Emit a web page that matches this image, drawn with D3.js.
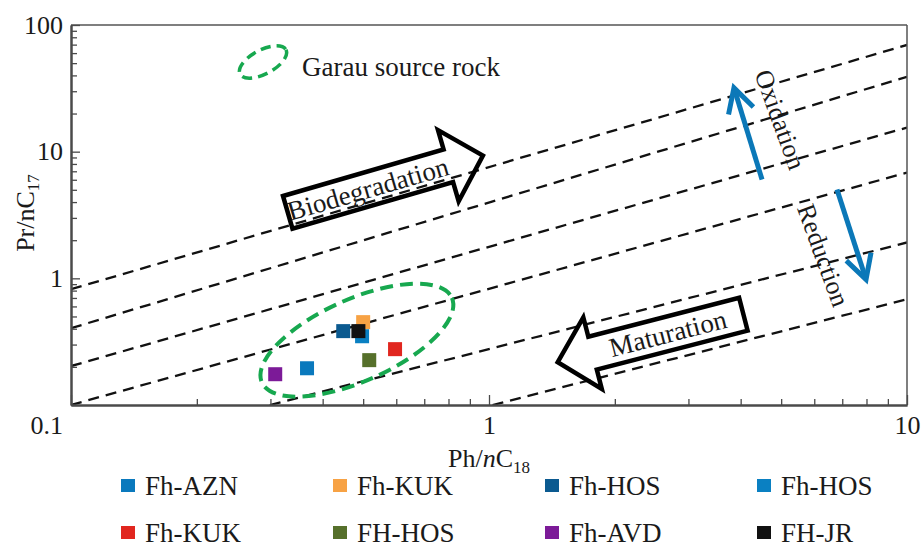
<!DOCTYPE html>
<html>
<head>
<meta charset="utf-8">
<script src="https://cdn.jsdelivr.net/npm/d3@7"></script>
<style>
  html, body { margin: 0; padding: 0; background: #fff; }
  svg text { font-family: "Liberation Serif", "Times New Roman", serif; fill: #1a1a1a; }
</style>
</head>
<body>
<svg id="chart" width="921" height="548"></svg>
<script>
// ---- Samples (Ph/nC18 vs Pr/nC17) ----
const sampleNames  = ["Fh-AZN", "Fh-KUK", "Fh-HOS", "Fh-HOS", "Fh-KUK", "FH-HOS", "Fh-AVD", "FH-JR"];
const sampleColors = ["#0a79bd", "#f7a244", "#0b5a90", "#0a80c2", "#e1261f", "#56702b", "#7c1a98", "#111111"];
const phC18 = [0.367, 0.500, 0.448, 0.497, 0.596, 0.517, 0.308, 0.487];
const prC17 = [0.195, 0.451, 0.383, 0.349, 0.276, 0.226, 0.175, 0.383];

// ---- Axis ticks ----
const xMajorTicks = [0.1, 1, 10];
const yMajorTicks = [0.1, 1, 10, 100];
const xMinorTicks = [0.2, 0.3, 0.4, 0.5, 0.6, 0.7, 0.8, 0.9, 2, 3, 4, 5, 6, 7, 8, 9];
const yMinorTicks = [0.2, 0.3, 0.4, 0.5, 0.6, 0.7, 0.8, 0.9, 2, 3, 4, 5, 6, 7, 8, 9,
                     20, 30, 40, 50, 60, 70, 80, 90];

// ---- Dashed iso-ratio guide lines (start / end in data units) ----
const guideStartX = [0.1, 0.1, 0.1, 0.1, 0.299, 1.02];
const guideStartY = [0.82, 0.404, 0.203, 0.1, 0.1, 0.1];
const guideEndX   = [10, 10, 10, 10, 10, 10];
const guideEndY   = [69.6, 39, 15.5, 6.84, 1.92, 0.684];

// ---- Process arrows (outlined block arrows) ----
const processLabels = ["Biodegradation", "Maturation"];
const processTailX = [0.330, 4.06];
const processTailY = [3.32, 0.521];
const processTipX  = [0.967, 1.46];
const processTipY  = [9.30, 0.218];

// ---- Redox trend arrows ----
const redoxLabels = ["Oxidation", "Reduction"];
const redoxTailX = [4.50, 6.80];
const redoxTailY = [6.02, 5.02];
const redoxTipX  = [3.855, 7.98];
const redoxTipY  = [31.9, 0.98];
const redoxTextX = [4.97, 6.30];
const redoxTextY = [17.9, 1.52];

// ---- Garau source rock field ----
const fieldCenterX = 0.483;
const fieldCenterY = 0.325;
const fieldLabel = "Garau source rock";

// ---- Layout ----
const svg = d3.select("#chart");
const plotLeft = 71, plotRight = 907, plotTop = 25, plotBottom = 405;

const x = d3.scaleLog().domain([0.1, 10]).range([plotLeft, plotRight]);
const y = d3.scaleLog().domain([0.1, 100]).range([plotBottom, plotTop]);

svg.append("defs").append("clipPath").attr("id", "plotClip")
  .append("rect").attr("x", plotLeft).attr("y", plotTop)
  .attr("width", plotRight - plotLeft).attr("height", plotBottom - plotTop);

// Guide lines
const guides = svg.append("g").attr("clip-path", "url(#plotClip)");
guides.selectAll("line")
  .data(d3.range(guideStartX.length))
  .join("line")
  .attr("x1", i => x(guideStartX[i])).attr("y1", i => y(guideStartY[i]))
  .attr("x2", i => x(guideEndX[i])).attr("y2", i => y(guideEndY[i]))
  .attr("stroke", "#111").attr("stroke-width", 2.3)
  .attr("stroke-dasharray", "11,7");

// Frame: top and right borders
svg.append("line").attr("x1", plotLeft).attr("x2", plotRight).attr("y1", plotTop).attr("y2", plotTop)
  .attr("stroke", "#555").attr("stroke-width", 1.5);
svg.append("line").attr("x1", plotRight).attr("x2", plotRight).attr("y1", plotTop).attr("y2", plotBottom)
  .attr("stroke", "#555").attr("stroke-width", 1.5);

// Axes (ticks point inward)
function styleAxis(g) {
  g.select(".domain").attr("stroke", "#4a4a4a").attr("stroke-width", 2);
  g.selectAll(".tick line").attr("stroke", "#4a4a4a").attr("stroke-width", 1.3);
  g.selectAll(".tick text").attr("font-size", 26).attr("fill", "#1a1a1a")
    .attr("font-family", "Liberation Serif, Times New Roman, serif");
}

const fmt = d => (d < 1 ? d3.format(".1f")(d) : d3.format("d")(d));

svg.append("g").attr("transform", `translate(0,${plotBottom})`)
  .call(d3.axisBottom(x).tickValues(xMinorTicks).tickSize(-6).tickSizeOuter(0).tickFormat(""))
  .call(styleAxis);
svg.append("g").attr("transform", `translate(${plotLeft},0)`)
  .call(d3.axisLeft(y).tickValues(yMinorTicks).tickSize(-6).tickSizeOuter(0).tickFormat(""))
  .call(styleAxis);

// x major: the 0.1 label is shared with the y axis, so only 1 and 10 are written here
svg.append("g").attr("transform", `translate(0,${plotBottom})`)
  .call(d3.axisBottom(x).tickValues(xMajorTicks).tickSize(-10).tickSizeOuter(0)
        .tickPadding(11).tickFormat(d => d === 0.1 ? "" : fmt(d)))
  .call(styleAxis);

const yAxisG = svg.append("g").attr("transform", `translate(${plotLeft},0)`)
  .call(d3.axisLeft(y).tickValues(yMajorTicks).tickSize(-9).tickSizeOuter(0)
        .tickPadding(8).tickFormat(fmt))
  .call(styleAxis);
// the bottom-left 0.1 sits below the corner
yAxisG.selectAll(".tick").filter(d => d === 0.1).select("text").attr("dy", "1.1em");

// Axis titles
const yTitle = svg.append("text")
  .attr("transform", "translate(34,213) rotate(-90)")
  .attr("text-anchor", "middle").attr("font-size", 26);
yTitle.append("tspan").text("Pr/nC");
yTitle.append("tspan").attr("font-size", 17).attr("dy", 5).text("17");

const xTitle = svg.append("text")
  .attr("x", 489).attr("y", 467)
  .attr("text-anchor", "middle").attr("font-size", 26);
xTitle.append("tspan").text("Ph/");
xTitle.append("tspan").attr("font-style", "italic").text("n");
xTitle.append("tspan").text("C");
xTitle.append("tspan").attr("font-size", 17).attr("dy", 6).text("18");

// Garau source rock field
const green = "#17a84f";
svg.append("ellipse")
  .attr("cx", 0).attr("cy", 0).attr("rx", 104).attr("ry", 41)
  .attr("transform", `translate(${x(fieldCenterX)},${y(fieldCenterY)}) rotate(-24)`)
  .attr("fill", "none").attr("stroke", green).attr("stroke-width", 4)
  .attr("stroke-dasharray", "13,7");

// Field key
svg.append("ellipse")
  .attr("cx", 0).attr("cy", 0).attr("rx", 26).attr("ry", 12)
  .attr("transform", "translate(263,62) rotate(-28)")
  .attr("fill", "none").attr("stroke", green).attr("stroke-width", 3.5)
  .attr("stroke-dasharray", "10,6");
svg.append("text").attr("x", 302).attr("y", 76).attr("font-size", 27).text(fieldLabel);

// Outlined block arrows
processLabels.forEach((label, i) => {
  const x0 = x(processTailX[i]), y0 = y(processTailY[i]);
  const x1 = x(processTipX[i]), y1 = y(processTipY[i]);
  const L = Math.hypot(x1 - x0, y1 - y0);
  const ang = Math.atan2(y1 - y0, x1 - x0) * 180 / Math.PI;
  const h = 17, H = 37, Lh = 36;
  const pts = [[0, -h], [L - Lh, -h], [L - Lh, -H], [L, 0], [L - Lh, H], [L - Lh, h], [0, h]];
  const g = svg.append("g").attr("transform", `translate(${x0},${y0}) rotate(${ang})`);
  g.append("polygon").attr("points", pts.map(p => p.join(",")).join(" "))
    .attr("fill", "none").attr("stroke", "#000").attr("stroke-width", 4.5)
    .attr("stroke-linejoin", "miter");
  const flip = Math.abs(ang) > 90;
  g.append("text")
    .attr("transform", `translate(${(L - Lh) / 2},0) rotate(${flip ? 180 : 0})`)
    .attr("text-anchor", "middle").attr("dy", "0.33em")
    .attr("font-size", 27).text(label);
});

// Redox arrows
const blue = "#0b78b8";
redoxLabels.forEach((label, i) => {
  const x0 = x(redoxTailX[i]), y0 = y(redoxTailY[i]);
  const x1 = x(redoxTipX[i]), y1 = y(redoxTipY[i]);
  const L = Math.hypot(x1 - x0, y1 - y0);
  const ang = Math.atan2(y1 - y0, x1 - x0) * 180 / Math.PI;
  const g = svg.append("g").attr("transform", `translate(${x0},${y0}) rotate(${ang})`);
  g.append("line").attr("x1", 0).attr("y1", 0).attr("x2", L - 2).attr("y2", 0)
    .attr("stroke", blue).attr("stroke-width", 5);
  g.append("path").attr("d", `M${L - 24},-13 L${L},0 L${L - 24},13`)
    .attr("fill", "none").attr("stroke", blue).attr("stroke-width", 5)
    .attr("stroke-linejoin", "miter");
  svg.append("text")
    .attr("transform", `translate(${x(redoxTextX[i])},${y(redoxTextY[i])}) rotate(70)`)
    .attr("text-anchor", "middle").attr("dy", "0.33em")
    .attr("font-size", 26).text(label);
});

// Sample markers
const ms = 14;
svg.append("g").selectAll("rect")
  .data(d3.range(sampleNames.length))
  .join("rect")
  .attr("x", i => x(phC18[i]) - ms / 2)
  .attr("y", i => y(prC17[i]) - ms / 2)
  .attr("width", ms).attr("height", ms)
  .attr("fill", i => sampleColors[i]);

// Legend
const legend = svg.append("g");
sampleNames.forEach((name, i) => {
  const col = i % 4, row = Math.floor(i / 4);
  const lx = 121 + col * 212, ly = 486 + row * 47;
  legend.append("rect").attr("x", lx).attr("y", ly - 7).attr("width", 14).attr("height", 13)
    .attr("fill", sampleColors[i]);
  legend.append("text").attr("x", lx + 24).attr("y", ly + 8.5).attr("font-size", 27).text(name);
});
</script>
</body>
</html>
